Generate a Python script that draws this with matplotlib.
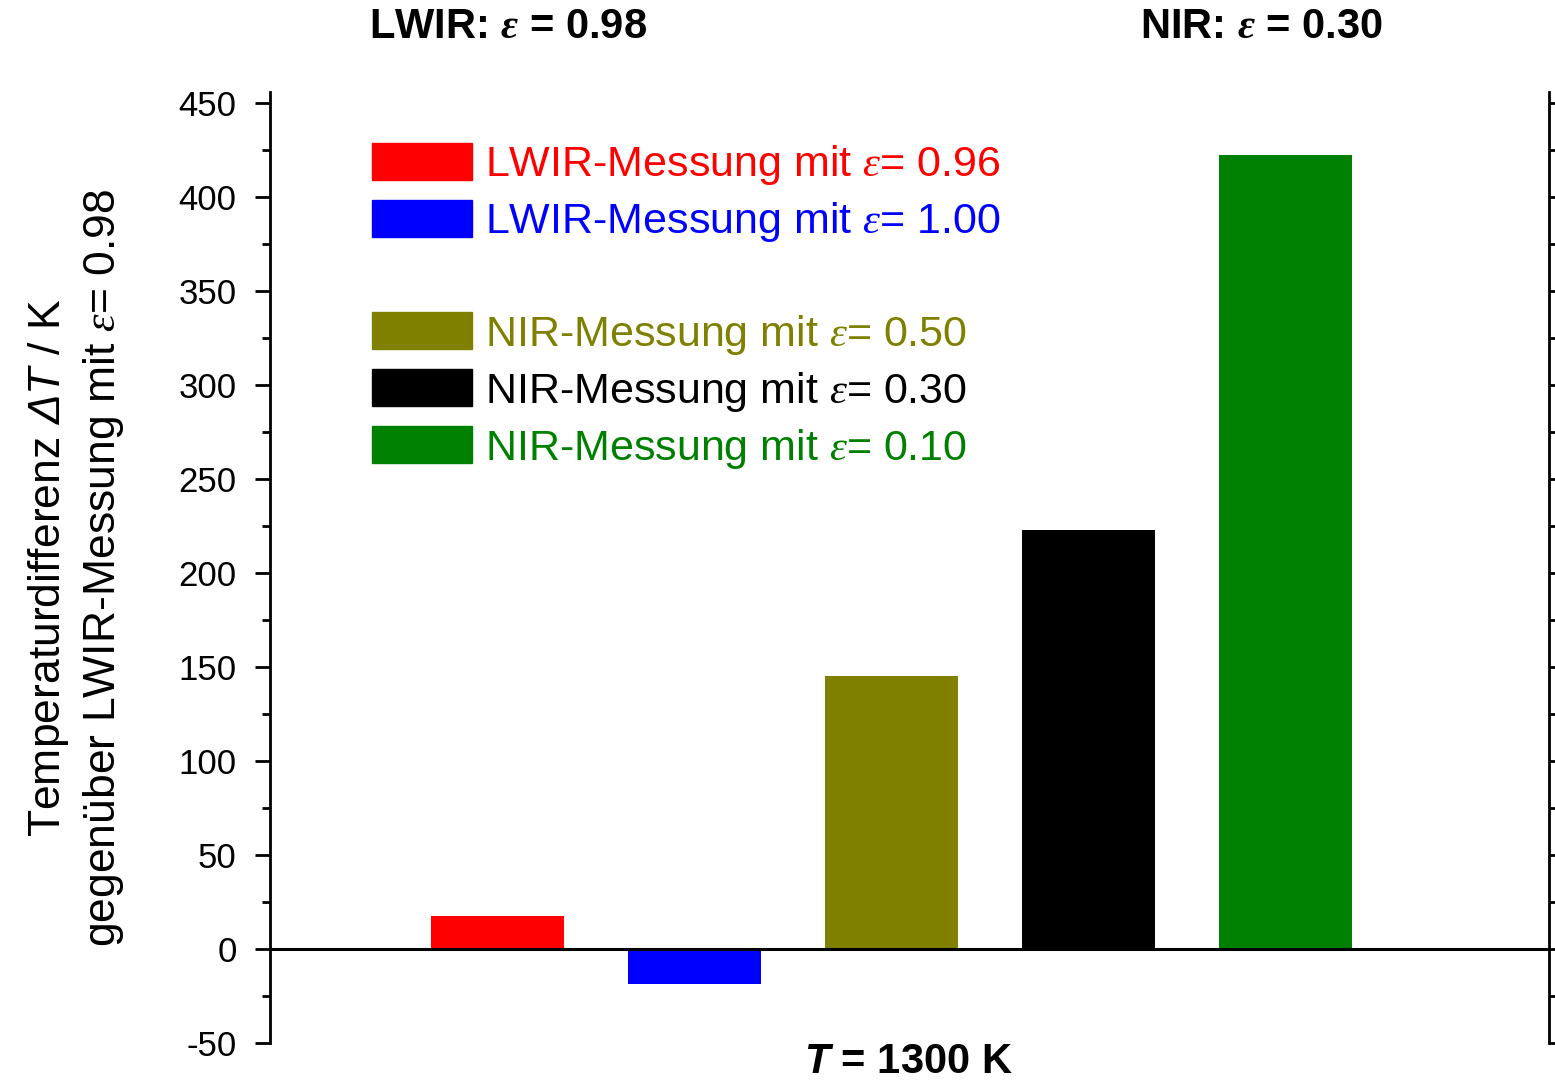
import numpy as np
import matplotlib
matplotlib.use("Agg")
import matplotlib.pyplot as plt
from matplotlib.patches import Patch
from matplotlib.ticker import MultipleLocator

# fonts: Arial-like text, serif italic epsilon
plt.rcParams['font.family'] = ['Liberation Sans', 'DejaVu Sans']
plt.rcParams['axes.unicode_minus'] = False
plt.rcParams['mathtext.fontset'] = 'custom'
plt.rcParams['mathtext.rm'] = 'Liberation Sans'
plt.rcParams['mathtext.it'] = 'Liberation Serif:italic'
plt.rcParams['mathtext.sf'] = 'Liberation Sans:italic'
plt.rcParams['mathtext.bf'] = 'Liberation Serif:italic:bold'
plt.rcParams['mathtext.bfit'] = 'Liberation Sans:italic:bold'

# data
labels = [r'LWIR-Messung mit $\mathit{\varepsilon}$= 0.96',
          r'LWIR-Messung mit $\mathit{\varepsilon}$= 1.00',
          r'NIR-Messung mit $\mathit{\varepsilon}$= 0.50',
          r'NIR-Messung mit $\mathit{\varepsilon}$= 0.30',
          r'NIR-Messung mit $\mathit{\varepsilon}$= 0.10']
delta_T = [17.6, -18.6, 145.2, 222.9, 422.3]
colors = ['#ff0000', '#0000ff', '#808000', '#000000', '#008000']
positions = [1, 2, 3, 4, 5]

fig = plt.figure(figsize=(15.55, 10.85), dpi=100)
ax = fig.add_axes([0.1736, 0.0387, 0.8225, 0.8765])

ax.bar(positions, delta_T, width=0.675, color=colors)
ax.axhline(0, color='black', lw=2.2, zorder=3)

ax.set_xlim(-0.157, 6.335)
ax.set_ylim(-50, 456)
ax.yaxis.set_major_locator(MultipleLocator(50))
ax.yaxis.set_minor_locator(MultipleLocator(25))
ax.set_xticks([])

ax.spines['top'].set_visible(False)
ax.spines['bottom'].set_visible(False)
for s in ['left', 'right']:
    ax.spines[s].set_linewidth(2)
    ax.spines[s].set_bounds(-50, 456)

ax.tick_params(axis='y', which='major', length=11, width=2, labelsize=25,
               direction='out', right=True, pad=13)
ax.tick_params(axis='y', which='minor', length=5.5, width=2,
               direction='out', right=True)

ax.set_ylabel('Temperaturdifferenz $\\mathsf{\\Delta T}$ / K\n'
              'gegenüber LWIR-Messung mit $\\mathit{\\varepsilon}$= 0.98',
              fontsize=32, labelpad=38, linespacing=1.3)

# legend with a blank row between the LWIR and NIR entries
handles = [Patch(color=c) for c in colors]
handles.insert(2, Patch(visible=False))
leg_labels = labels[:2] + [' '] + labels[2:]
leg_colors = colors[:2] + ['white'] + colors[2:]
leg = ax.legend(handles, leg_labels, loc='upper left',
                bbox_to_anchor=(0.08, 0.946), frameon=False, fontsize=31,
                handlelength=2.32, handleheight=0.93, handletextpad=0.3,
                labelspacing=0.3, borderaxespad=0, borderpad=0)
for t, c in zip(leg.get_texts(), leg_colors):
    t.set_color(c)

fig.text(0.327, 0.975, r'LWIR: $\mathbf{\varepsilon}$ = 0.98', fontsize=30,
         fontweight='bold', ha='center', va='center')
fig.text(0.811, 0.975, r'NIR: $\mathbf{\varepsilon}$ = 0.30', fontsize=30,
         fontweight='bold', ha='center', va='center')
fig.text(0.584, 0.003, r'$\mathbfit{T}$ = 1300 K', fontsize=30,
         fontweight='bold', ha='center', va='bottom')

fig.savefig('out.png', dpi=100)
